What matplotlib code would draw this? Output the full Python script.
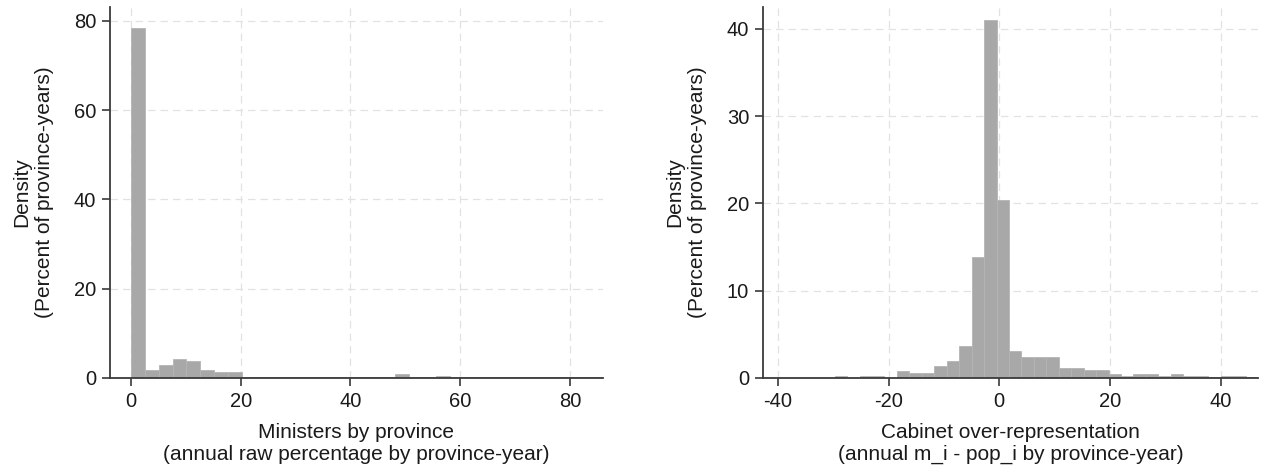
import matplotlib
matplotlib.use("Agg")
import matplotlib.pyplot as plt
import numpy as np

plt.rcParams['font.family'] = ['Liberation Sans', 'DejaVu Sans']
plt.rcParams['axes.unicode_minus'] = False

# Left histogram: ministers by province (percent per bin)
left_bin_width = 2.53
left_start = 0.0
left_pct = [78.4, 1.9, 3.0, 4.3, 3.8, 1.7, 1.3, 1.3,
            0.3, 0.25, 0.2, 0.2, 0.15, 0.2, 0.15, 0.2, 0.2, 0.15, 0.2,
            0.85, 0.15, 0.2, 0.45, 0.2, 0.2, 0.15, 0.2, 0.2, 0.15, 0.15,
            0.2, 0.15, 0.15, 0.2]

# Right histogram: cabinet over-representation (percent per bin)
right_bin_width = 2.25
right_start = -41.0
right_pct = [0.05, 0.0, 0.0, 0.0, 0.0, 0.23, 0.0, 0.2, 0.2, 0.0,
             0.77, 0.57, 0.57, 1.34, 2.0, 3.67, 13.85, 41.0, 20.4,
             3.1, 2.4, 2.4, 2.4, 1.15, 1.15, 0.88, 0.88, 0.42, 0.25,
             0.5, 0.5, 0.23, 0.5, 0.23, 0.23, 0.1, 0.2, 0.2, 0.15]

left_xticks = [0, 20, 40, 60, 80]
left_yticks = [0, 20, 40, 60, 80]
right_xticks = [-40, -20, 0, 20, 40]
right_yticks = [0, 10, 20, 30, 40]

ylabel = "Density\n(Percent of province-years)"
left_xlabel = "Ministers by province\n(annual raw percentage by province-year)"
right_xlabel = "Cabinet over-representation\n(annual m_i - pop_i by province-year)"

bar_color = '#a8a8a8'
edge_color = '#b4b4b4'
text_color = '#1a1a1a'
spine_color = '#3a3a3a'
tick_fs = 14.5
label_fs = 15

fig = plt.figure(figsize=(12.73, 4.67), dpi=100)
ax1 = fig.add_axes([110 / 1273, 0.1906, 493 / 1273, 0.7944])
ax2 = fig.add_axes([763 / 1273, 0.1906, 495 / 1273, 0.7944])


def draw(ax, start, width, pct, xlim, ylim, xticks, yticks, xlabel):
    edges = start + width * np.arange(len(pct))
    ax.bar(edges, pct, width=width, align='edge', color=bar_color,
           edgecolor=edge_color, linewidth=0.6, zorder=3)
    ax.set_xlim(*xlim)
    ax.set_ylim(*ylim)
    ax.set_xticks(xticks)
    ax.set_yticks(yticks)
    ax.grid(True, color='#e2e2e2', linestyle=(0, (6, 4)), linewidth=0.9, zorder=0)
    for s in ['top', 'right']:
        ax.spines[s].set_visible(False)
    for s in ['left', 'bottom']:
        ax.spines[s].set_color(spine_color)
        ax.spines[s].set_linewidth(1.3)
        ax.spines[s].set_zorder(4)
    ax.tick_params(axis='both', direction='out', length=6, width=1.2,
                   color=spine_color, labelsize=tick_fs, labelcolor=text_color, pad=4)
    ax.set_xlabel(xlabel, fontsize=label_fs, color=text_color, linespacing=1.15, labelpad=9)
    ax.set_ylabel(ylabel, fontsize=label_fs, color=text_color, linespacing=1.25, labelpad=14)


draw(ax1, left_start, left_bin_width, left_pct, (-3.8, 86.0), (0, 83.1),
     left_xticks, left_yticks, left_xlabel)
draw(ax2, right_start, right_bin_width, right_pct, (-42.7, 46.75), (0, 42.5),
     right_xticks, right_yticks, right_xlabel)

fig.savefig('out.png', dpi=100, facecolor='white')
